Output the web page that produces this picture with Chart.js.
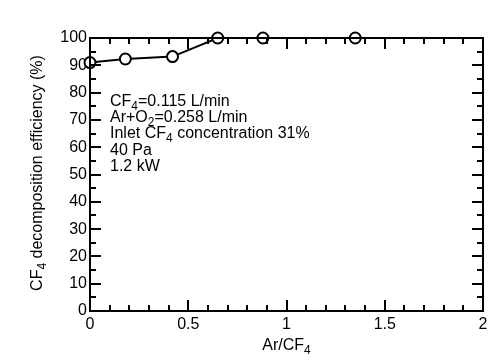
<!DOCTYPE html>
<html>
<head>
<meta charset="utf-8">
<script src="https://cdn.jsdelivr.net/npm/chart.js@4/dist/chart.umd.min.js"></script>
<style>
	html, body { margin: 0; padding: 0; background: #fff; }
	#wrap { width: 494px; height: 360px; }
</style>
</head>
<body>
<div id="wrap"><canvas id="chart"></canvas></div>
<script>
const ratio = [0, 0.18, 0.42, 0.65, 0.88, 1.35]
const efficiency = [91, 92.3, 93.2, 100, 100, 100]
const notes = [
	[["CF", ""], ["4", "sub"], ["=0.115 L/min", ""]],
	[["Ar+O", ""], ["2", "sub"], ["=0.258 L/min", ""]],
	[["Inlet CF", ""], ["4", "sub"], [" concentration 31%", ""]],
	[["40 Pa", ""]],
	[["1.2 kW", ""]],
]
const yTitle = [["CF", ""], ["4", "sub"], [" decomposition efficiency (%)", ""]]
const xTitle = [["Ar/CF", ""], ["4", "sub"]]

const font = "Liberation Sans, Arial, sans-serif"
const size = 16

function richWidth(ctx, parts, size) {
	let w = 0
	parts.forEach(p => {
		ctx.font = (p[1] == "sub" ? size * 0.75 : size) + "px " + font
		w += ctx.measureText(p[0]).width
	})
	return w
}

function drawRich(ctx, parts, x, y, size) {
	ctx.textBaseline = "alphabetic"
	ctx.textAlign = "left"
	parts.forEach(p => {
		const sub = p[1] == "sub"
		ctx.font = (sub ? size * 0.75 : size) + "px " + font
		ctx.fillText(p[0], x, sub ? y + size * 0.25 : y)
		x += ctx.measureText(p[0]).width
	})
}

const framePlugin = {
	id: "frame",
	afterDraw(chart) {
		const ctx = chart.ctx
		const a = chart.chartArea
		const xs = chart.scales.x
		const ys = chart.scales.y
		ctx.save()
		ctx.strokeStyle = "#000"
		ctx.lineWidth = 2
		ctx.strokeRect(a.left, a.top, a.right - a.left, a.bottom - a.top)
		ctx.beginPath()
		for (let i = 0; i <= 20; i++) {
			const px = Math.round(xs.getPixelForValue(i / 10))
			const len = i % 5 == 0 ? 11 : 6
			ctx.moveTo(px, a.bottom); ctx.lineTo(px, a.bottom - len)
			ctx.moveTo(px, a.top); ctx.lineTo(px, a.top + len)
		}
		for (let i = 0; i <= 20; i++) {
			const py = Math.round(ys.getPixelForValue(i * 5))
			const len = i % 2 == 0 ? 11 : 6
			ctx.moveTo(a.left, py); ctx.lineTo(a.left + len, py)
			ctx.moveTo(a.right, py); ctx.lineTo(a.right - len, py)
		}
		ctx.stroke()

		ctx.fillStyle = "#000"
		notes.forEach((line, i) => {
			drawRich(ctx, line, 110, 106 + i * 16.2, size)
		})

		const xw = richWidth(ctx, xTitle, size)
		drawRich(ctx, xTitle, (a.left + a.right) / 2 - xw / 2, 350, size)

		ctx.translate(42, 173)
		ctx.rotate(-Math.PI / 2)
		const yw = richWidth(ctx, yTitle, size)
		drawRich(ctx, yTitle, -yw / 2, 0, size)
		ctx.restore()
	}
}

new Chart(document.getElementById("chart"), {
	type: "scatter",
	data: {
		datasets: [{
			data: ratio.map((x, i) => ({ x: x, y: efficiency[i] })),
			showLine: true,
			borderColor: "#000",
			borderWidth: 2,
			pointBackgroundColor: "#fff",
			pointBorderColor: "#000",
			pointBorderWidth: 2,
			pointRadius: 5.5,
			clip: false,
		}],
	},
	options: {
		responsive: true,
		maintainAspectRatio: false,
		animation: false,
		events: [],
		layout: { padding: { top: 38, right: 11, left: 0, bottom: 0 } },
		plugins: { legend: { display: false }, tooltip: { enabled: false } },
		scales: {
			x: {
				type: "linear",
				min: 0,
				max: 2,
				grid: { display: false, drawTicks: false },
				border: { display: false },
				afterFit: s => { s.height = 49 },
				ticks: {
					stepSize: 0.5,
					padding: 4,
					color: "#000",
					font: { family: font, size: size },
					callback: v => String(v),
				},
			},
			y: {
				min: 0,
				max: 100,
				grid: { display: false, drawTicks: false },
				border: { display: false },
				afterFit: s => { s.width = 90 },
				ticks: {
					stepSize: 10,
					padding: 3,
					color: "#000",
					font: { family: font, size: size },
				},
			},
		},
	},
	plugins: [framePlugin],
})
</script>
</body>
</html>
